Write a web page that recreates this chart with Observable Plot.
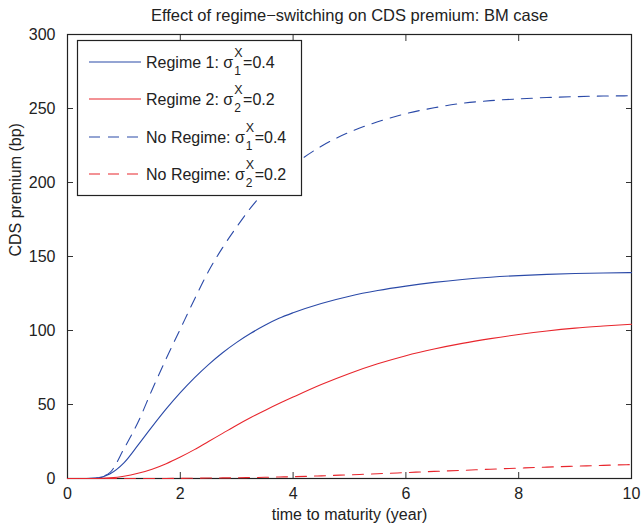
<!DOCTYPE html>
<html>
<head>
<meta charset="utf-8">
<script src="https://cdn.jsdelivr.net/npm/d3@7"></script>
<script src="https://cdn.jsdelivr.net/npm/@observablehq/plot@0.6"></script>
<style>
  body { margin: 0; background: #fff; }
  svg { display: block; }
</style>
</head>
<body>
<div id="chart"></div>
<script>
// ---- data ----
const maturity = [0, 0.25, 0.5, 0.75, 1, 1.25, 1.5, 1.75, 2, 2.25, 2.5, 2.75, 3, 3.25, 3.5, 3.75, 4, 4.5, 5, 5.5, 6, 6.5, 7, 7.5, 8, 8.5, 9, 9.5, 10];
const regime1   = [0, 0, 0.2, 3, 10.5, 22.5, 35, 47, 58, 68, 77, 85, 92, 98.1, 103.5, 108.2, 112, 118.3, 123.2, 127, 130, 132.5, 134.5, 136, 137.1, 137.9, 138.5, 138.9, 139.1];
const regime2   = [0, 0, 0, 0.4, 1.5, 3.5, 6.3, 10, 14.5, 19.5, 25, 30.5, 36, 41.2, 46, 50.6, 55, 63.5, 71, 77.5, 83, 87.5, 91.3, 94.5, 97.3, 99.7, 101.6, 103, 104.2];
const noRegime1 = [0, 0, 0.3, 4, 20, 38, 60, 81, 101, 121, 140, 156, 170, 183, 194, 203.5, 211.5, 224.5, 234, 241, 246.5, 250.5, 253.5, 255.3, 256.5, 257.4, 258, 258.4, 258.6];
const noRegime2 = [0, 0, 0, 0, 0, 0, 0, 0.05, 0.1, 0.2, 0.3, 0.4, 0.5, 0.65, 0.8, 1, 1.2, 1.8, 2.5, 3.2, 4, 4.8, 5.5, 6.3, 7, 7.7, 8.3, 8.9, 9.4];

const seriesNames = ["Regime 1", "Regime 2", "No Regime 1", "No Regime 2"];
const seriesValues = [regime1, regime2, noRegime1, noRegime2];
const seriesColors = ["#2b4aa8", "#e8262d", "#2b4aa8", "#e8262d"];
const seriesDashed = [false, false, true, true];
// legend labels: prefix, superscript, subscript, suffix
const legendPrefix = ["Regime 1: σ", "Regime 2: σ", "No Regime: σ", "No Regime: σ"];
const legendSup = ["X", "X", "X", "X"];
const legendSub = ["1", "2", "1", "2"];
const legendSuffix = ["=0.4", "=0.2", "=0.4", "=0.2"];

const xTicks = [0, 2, 4, 6, 8, 10];
const yTicks = [0, 50, 100, 150, 200, 250, 300];
const titleText = "Effect of regime\u2212switching on CDS premium: BM case";
const xLabel = "time to maturity (year)";
const yLabel = "CDS premium (bp)";

const DASH = "11,8";
const FONT = "'Liberation Sans', Arial, Helvetica, sans-serif";

const lineMarks = seriesNames.map((name, s) => {
  const rows = maturity.map((t, i) => ({t, v: seriesValues[s][i]}));
  return Plot.line(rows, {
    x: "t", y: "v",
    stroke: seriesColors[s],
    strokeWidth: 1.1,
    strokeDasharray: seriesDashed[s] ? DASH : null,
    curve: "monotone-x"
  });
});

const plot = Plot.plot({
  width: 642,
  height: 524,
  marginTop: 34,
  marginRight: 11,
  marginBottom: 46,
  marginLeft: 67,
  style: {fontFamily: FONT, fontSize: "16px", background: "#fff", color: "#222"},
  x: {domain: [0, 10]},
  y: {domain: [0, 300]},
  marks: [
    Plot.axisX({ticks: xTicks, tickSize: -6, tickPadding: 15, tickFormat: d => d, label: null, stroke: "#333"}),
    Plot.axisX({anchor: "top", ticks: xTicks, tickSize: -6, tickFormat: () => "", label: null, stroke: "#333"}),
    Plot.axisY({ticks: yTicks, tickSize: -6, tickPadding: 18, tickFormat: d => d, label: null, stroke: "#333"}),
    Plot.axisY({anchor: "right", ticks: yTicks, tickSize: -6, tickFormat: () => "", label: null, stroke: "#333"}),
    Plot.frame({stroke: "#222", strokeWidth: 1.2}),
    ...lineMarks,
    Plot.text([titleText], {frameAnchor: "top", dy: -19, lineAnchor: "middle", fontSize: 16.5, fill: "#222"}),
    Plot.text([xLabel], {frameAnchor: "bottom", dy: 36, lineAnchor: "middle", fontSize: 16, fill: "#222"}),
    Plot.text([yLabel], {frameAnchor: "left", dx: -52, rotate: -90, lineAnchor: "middle", fontSize: 16, fill: "#222"})
  ]
});

document.getElementById("chart").appendChild(plot);

// ---- legend (MATLAB style box, upper left) ----
const svg = d3.select(plot);
const lg = svg.append("g")
  .attr("font-family", FONT)
  .attr("fill", "#222")
  .attr("text-anchor", "start");
lg.append("rect")
  .attr("x", 77.5).attr("y", 40.5).attr("width", 224).attr("height", 155)
  .attr("fill", "#fff").attr("stroke", "#222").attr("stroke-width", 1.2);
const rowY = [62, 99, 137, 174];
seriesNames.forEach((name, i) => {
  const y = rowY[i];
  lg.append("line")
    .attr("x1", 89).attr("x2", 141).attr("y1", y).attr("y2", y)
    .attr("stroke", seriesColors[i]).attr("stroke-width", 1.1)
    .attr("stroke-dasharray", seriesDashed[i] ? DASH : null);
  const main = lg.append("text").attr("x", 146).attr("y", y + 5.5).attr("font-size", 16).text(legendPrefix[i]);
  const w = main.node().getComputedTextLength();
  const x0 = 146 + w + 1;
  const sup = lg.append("text").attr("x", x0).attr("y", y - 5).attr("font-size", 12.5).text(legendSup[i]);
  const sub = lg.append("text").attr("x", x0).attr("y", y + 13).attr("font-size", 12).text(legendSub[i]);
  const w2 = Math.max(sup.node().getComputedTextLength(), sub.node().getComputedTextLength());
  lg.append("text").attr("x", x0 + w2 + 0.5).attr("y", y + 5.5).attr("font-size", 16).text(legendSuffix[i]);
});
</script>
</body>
</html>
